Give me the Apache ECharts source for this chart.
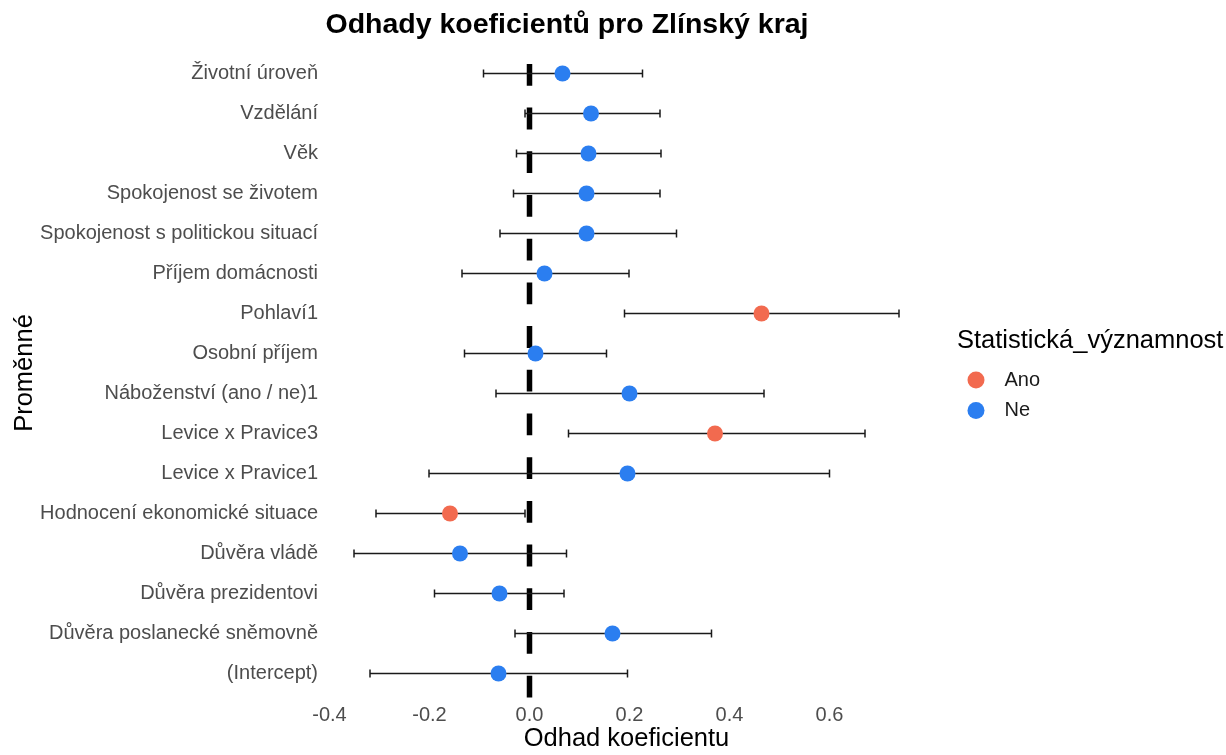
<!DOCTYPE html>
<html>
<head>
<meta charset="utf-8">
<title>Odhady koeficientů pro Zlínský kraj</title>
<script src="https://cdn.jsdelivr.net/npm/echarts@6/dist/echarts.min.js"></script>
<style>
  html, body { margin: 0; padding: 0; background: #ffffff; }
  #chart { width: 1226px; height: 755px; }
</style>
</head>
<body>
<div id="chart"></div>
<script>
// Proměnné modelu (shora dolů)
const categories = [
  'Životní úroveň',
  'Vzdělání',
  'Věk',
  'Spokojenost se životem',
  'Spokojenost s politickou situací',
  'Příjem domácnosti',
  'Pohlaví1',
  'Osobní příjem',
  'Náboženství (ano / ne)1',
  'Levice x Pravice3',
  'Levice x Pravice1',
  'Hodnocení ekonomické situace',
  'Důvěra vládě',
  'Důvěra prezidentovi',
  'Důvěra poslanecké sněmovně',
  '(Intercept)'
];

// Bodové odhady koeficientů
const estimates = [0.066, 0.123, 0.118, 0.114, 0.114, 0.030, 0.464, 0.012,
                   0.200, 0.371, 0.196, -0.159, -0.139, -0.060, 0.166, -0.062];

// Dolní a horní mez intervalu spolehlivosti
const lowerBounds = [-0.092, -0.009, -0.026, -0.032, -0.059, -0.135, 0.190, -0.130,
                     -0.067, 0.078, -0.201, -0.307, -0.351, -0.190, -0.029, -0.319];
const upperBounds = [0.226, 0.261, 0.263, 0.261, 0.294, 0.199, 0.739, 0.154,
                     0.469, 0.671, 0.600, -0.009, 0.074, 0.069, 0.364, 0.196];

// Statistická významnost každého koeficientu
const significance = ['Ne', 'Ne', 'Ne', 'Ne', 'Ne', 'Ne', 'Ano', 'Ne',
                      'Ne', 'Ano', 'Ne', 'Ano', 'Ne', 'Ne', 'Ne', 'Ne'];

const significanceLevels = ['Ano', 'Ne'];
const xTicks = [-0.4, -0.2, 0.0, 0.2, 0.4, 0.6];
const referenceValue = [0];

const FONT = "'Liberation Sans', Arial, sans-serif";
const levelColors = { 'Ano': '#F26A4F', 'Ne': '#2B7EF0' };

const chart = echarts.init(document.getElementById('chart'), null, { renderer: 'canvas' });

const errorData = categories.map((c, i) => [lowerBounds[i], upperBounds[i], i]);

const pointSeries = significanceLevels.map(level => ({
  name: level,
  type: 'scatter',
  symbol: 'circle',
  symbolSize: 16,
  z: 5,
  itemStyle: { color: levelColors[level], opacity: 1 },
  emphasis: { disabled: true },
  data: categories
    .map((c, i) => significance[i] === level ? [estimates[i], i] : null)
    .filter(d => d !== null)
}));

const option = {
  backgroundColor: '#ffffff',
  animation: false,
  grid: { left: 329.5, right: 296.5, top: 53.5, bottom: 61.5, containLabel: false },
  xAxis: {
    type: 'value',
    min: -0.4,
    max: 0.8,
    interval: 0.2,
    axisLine: { show: false },
    axisTick: { show: false },
    splitLine: { show: false },
    axisLabel: {
      margin: 12,
      fontSize: 20,
      fontFamily: FONT,
      color: '#4D4D4D',
      showMaxLabel: false,
      formatter: v => {
        const t = xTicks.find(x => Math.abs(x - v) < 1e-9);
        return t === undefined ? '' : t.toFixed(1);
      }
    }
  },
  yAxis: {
    type: 'category',
    data: categories,
    inverse: true,
    axisLine: { show: false },
    axisTick: { show: false },
    splitLine: { show: false },
    axisLabel: {
      margin: 11.5,
      fontSize: 20,
      fontFamily: FONT,
      color: '#4D4D4D',
      padding: [5, 0, 0, 0]
    }
  },
  legend: {
    data: significanceLevels,
    orient: 'vertical',
    left: 962.5,
    top: 365,
    itemWidth: 17,
    itemHeight: 17,
    itemGap: 10.5,
    icon: 'circle',
    selectedMode: false,
    textStyle: { fontSize: 20, fontFamily: FONT, color: '#1a1a1a', lineHeight: 20, padding: [0, 0, 0, 15] }
  },
  graphic: [
    {
      type: 'text', x: 567, y: 25,
      style: { text: 'Odhady koeficientů pro Zlínský kraj', font: 'bold 28.5px ' + FONT, fill: '#000', align: 'center', verticalAlign: 'middle' }
    },
    {
      type: 'text', x: 626.5, y: 739,
      style: { text: 'Odhad koeficientu', font: '25.5px ' + FONT, fill: '#000', align: 'center', verticalAlign: 'middle' }
    },
    {
      type: 'text', x: 25, y: 373, rotation: Math.PI / 2,
      style: { text: 'Proměnné', font: '25.5px ' + FONT, fill: '#000', align: 'center', verticalAlign: 'middle' }
    },
    {
      type: 'text', x: 957, y: 341,
      style: { text: 'Statistická_významnost', font: '25.5px ' + FONT, fill: '#000', align: 'left', verticalAlign: 'middle' }
    }
  ],
  series: [
    {
      // svislá přerušovaná čára v nule
      name: 'nula',
      type: 'custom',
      z: 1,
      clip: false,
      silent: true,
      data: referenceValue.map(v => [v, 0]),
      renderItem: (params, api) => {
        const cs = params.coordSys;
        const x = api.coord([api.value(0), 0])[0];
        const band = cs.height / categories.length;
        return {
          type: 'line',
          shape: { x1: x, y1: cs.y + cs.height + 0.1 * band, x2: x, y2: cs.y - 0.1 * band },
          style: { stroke: '#000', lineWidth: 5.5, lineDash: [21.8, 21.9], lineCap: 'butt' }
        };
      }
    },
    {
      // intervaly spolehlivosti
      name: 'interval',
      type: 'custom',
      z: 3,
      silent: true,
      data: errorData,
      renderItem: (params, api) => {
        const idx = api.value(2);
        const lo = api.coord([api.value(0), idx]);
        const hi = api.coord([api.value(1), idx]);
        const h = 4;
        const st = { stroke: '#1a1a1a', lineWidth: 1.5 };
        return {
          type: 'group',
          children: [
            { type: 'line', shape: { x1: lo[0], y1: lo[1], x2: hi[0], y2: hi[1] }, style: st },
            { type: 'line', shape: { x1: lo[0], y1: lo[1] - h, x2: lo[0], y2: lo[1] + h }, style: st },
            { type: 'line', shape: { x1: hi[0], y1: hi[1] - h, x2: hi[0], y2: hi[1] + h }, style: st }
          ]
        };
      }
    },
    ...pointSeries
  ]
};

chart.setOption(option);
</script>
</body>
</html>
